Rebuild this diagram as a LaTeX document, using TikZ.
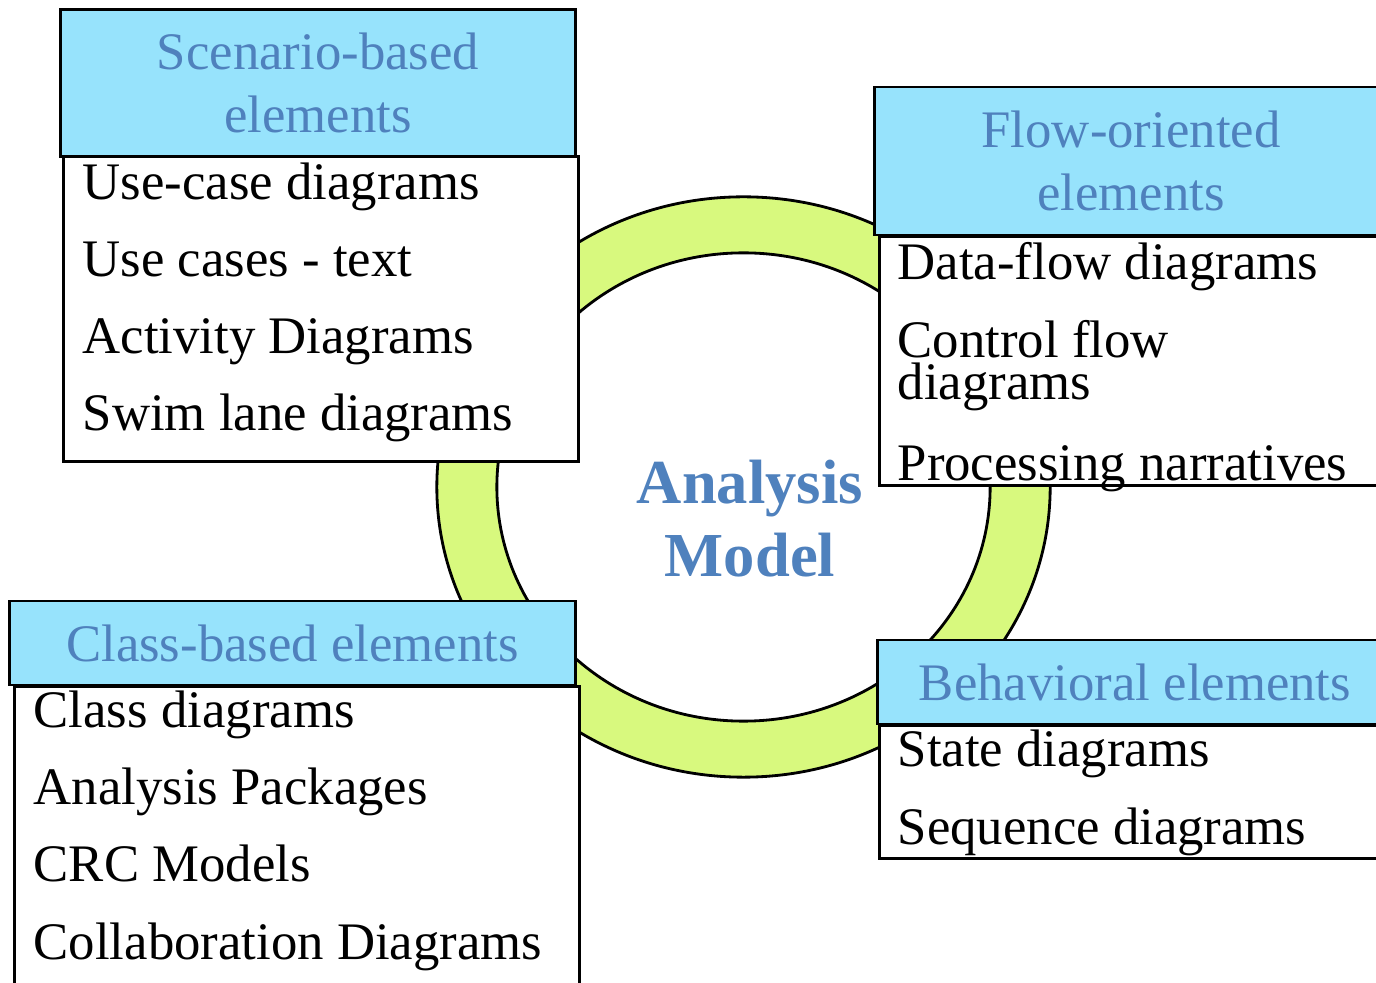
\documentclass[tikz,border=0pt]{standalone}
\usepackage{fontspec}
\setmainfont{Liberation Serif}
\usepackage{tikz}
\usetikzlibrary{shapes}
\definecolor{headfill}{RGB}{151,227,252}
\definecolor{headtext}{RGB}{79,129,189}
\definecolor{ringfill}{RGB}{216,249,126}

\begin{document}
\begin{tikzpicture}[x=0.01cm, y=-0.01cm]
		\tikzstyle{head_box} = [rectangle, fill=headfill, draw, line width=0.8pt,
		text=headtext, align=center, inner sep=0pt,
		font=\fontsize{15}{17.8}\selectfont]
		\tikzstyle{list_box} = [rectangle, fill=white, draw, line width=0.8pt,
		anchor=north west, inner sep=0pt]
		\tikzstyle{list_item} = [anchor=base west, inner sep=0pt, align=left,
		font=\fontsize{15}{12.2}\selectfont]
		\useasboundingbox (0,0) rectangle (1376,983);
		\clip (0,0) rectangle (1376,983);
		% the ring behind the four boxes
		\path[fill=ringfill, draw, line width=0.8pt, even odd rule]
		(743.5,487) ellipse [x radius=3.065cm, y radius=2.9cm]
		(743.5,487) ellipse [x radius=2.465cm, y radius=2.34cm];
		\node[text=headtext, align=center, anchor=base, inner sep=0pt,
		font=\fontsize{17.8}{21}\selectfont\bfseries] (model) at (750,577)
		{Analysis\\Model};
		% scenario-based
		\node[list_box, minimum width=5.15cm, minimum height=3.05cm] (scen_body) at (62,155) {};
		\node[head_box, minimum width=5.14cm, minimum height=1.47cm] (scen_head) at (318,83)
		{Scenario-based\\elements};
		\node[list_item] (usecase) at (82,200) {Use-case diagrams};
		\node[list_item] (usetext) at (82,277) {Use cases - text};
		\node[list_item] (activity) at (82,354) {Activity Diagrams};
		\node[list_item] (swimlane) at (82,431) {Swim lane diagrams};
		% flow-oriented
		\node[list_box, minimum width=5.12cm, minimum height=2.49cm] (flow_body) at (878,235) {};
		\node[head_box, minimum width=5.12cm, minimum height=1.48cm] (flow_head) at (1131,161)
		{Flow-oriented\\elements};
		\node[list_item] (dataflow) at (897,280) {Data-flow diagrams};
		\node[list_item] (control) at (897,400) {Control flow\\diagrams};
		\node[list_item] (narrative) at (897,481) {Processing narratives};
		% class-based
		\node[list_box, minimum width=5.65cm, minimum height=3.15cm] (class_body) at (13,685) {};
		\node[head_box, minimum width=5.65cm, minimum height=0.84cm] (class_head) at (292.5,643)
		{Class-based elements};
		\node[list_item] (classdiag) at (33,728) {Class diagrams};
		\node[list_item] (packages) at (33,805) {Analysis Packages};
		\node[list_item] (crc) at (33,882) {CRC Models};
		\node[list_item] (collab) at (33,959) {Collaboration Diagrams};
		% behavioral
		\node[list_box, minimum width=5.14cm, minimum height=1.33cm] (beh_body) at (878,724) {};
		\node[head_box, minimum width=5.14cm, minimum height=0.84cm] (beh_head) at (1135,682)
		{Behavioral elements};
		\node[list_item] (state) at (897,767) {State diagrams};
		\node[list_item] (sequence) at (897,844) {Sequence diagrams};
	\end{tikzpicture}
\end{document}
